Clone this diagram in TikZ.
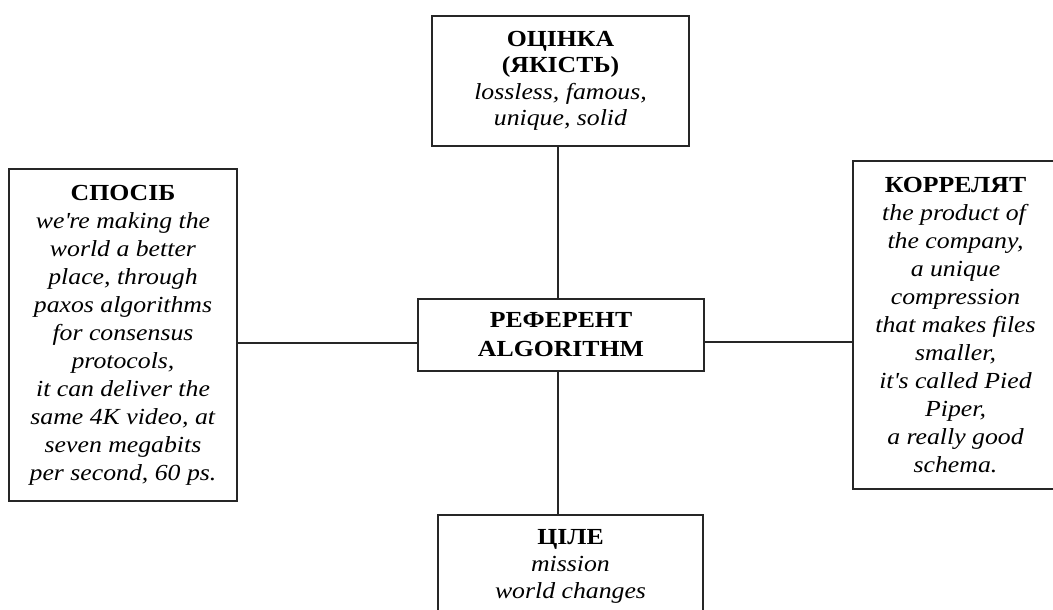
\documentclass[tikz,border=0pt]{standalone}
\usepackage{fontspec}
\setmainfont{Liberation Serif}[FakeStretch=1.12]
\begin{document}
\begin{tikzpicture}[x=1pt,y=-1pt,
  boxtext/.style={align=center, inner sep=0pt, font=\fontsize{23}{28}\selectfont},
  box/.style={boxtext, draw=black!85, line width=1.6pt},
  conn/.style={draw=black!85, line width=1.6pt}]
\useasboundingbox (0,0) rectangle (1053,610);
\clip (0,0) rectangle (1053,610);
\node[box, minimum width=257pt, minimum height=130pt] (quality) at (560.5,81)
  {\textbf{ОЦІНКА}\\[-1.5pt]\textbf{(ЯКІСТЬ)}\\[-1.5pt]\textit{lossless, famous,}\\[-1.5pt]\textit{unique, solid}};
\node[box, minimum width=286pt, minimum height=72pt] (referent) at (561,335)
  {\textbf{РЕФЕРЕНТ}\\[1pt]\textbf{ALGORITHM}};
\node[box, minimum width=228pt, minimum height=332pt] (method) at (123,335)
  {\textbf{СПОСІБ}\\\textit{we\textquotesingle re making the}\\\textit{world a better}\\\textit{place, through}\\\textit{paxos algorithms}\\\textit{for consensus}\\\textit{protocols,}\\\textit{it can deliver the}\\\textit{same 4K video, at}\\\textit{seven megabits}\\\textit{per second, 60 ps.}};
\node[box, minimum width=205pt, minimum height=328pt] (correlate) at (955.5,325)
  {\textbf{КОРРЕЛЯТ}\\\textit{the product of}\\\textit{the company,}\\\textit{a unique}\\\textit{compression}\\\textit{that makes files}\\\textit{smaller,}\\\textit{it\textquotesingle s called Pied}\\\textit{Piper,}\\\textit{a really good}\\\textit{schema.}};
\node[box, minimum width=265pt, minimum height=150pt, anchor=north] (goal) at (570.5,514) {};
\node[boxtext, anchor=north] (goaltext) at (570.5,529)
  {\textbf{ЦІЛЕ}\\[-1pt]\textit{mission}\\[-1pt]\textit{world changes}};
\draw[conn] (quality.south -| 558,0) -- (referent.north -| 558,0);
\draw[conn] (referent.south -| 558,0) -- (goal.north -| 558,0);
\draw[conn] (method.east |- 0,343) -- (referent.west |- 0,343);
\draw[conn] (referent.east |- 0,342) -- (correlate.west |- 0,342);
\end{tikzpicture}
\end{document}
